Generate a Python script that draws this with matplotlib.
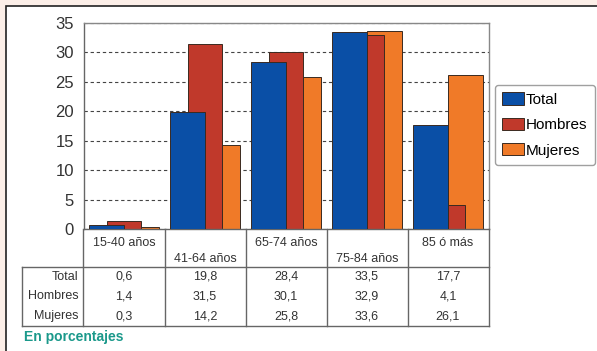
import numpy as np
import matplotlib
matplotlib.use("Agg")
import matplotlib.pyplot as plt
from matplotlib.patches import Rectangle, Patch

categories = ["15-40 años", "41-64 años", "65-74 años", "75-84 años", "85 ó más"]
total = [0.6, 19.8, 28.4, 33.5, 17.7]
hombres = [1.4, 31.5, 30.1, 32.9, 4.1]
mujeres = [0.3, 14.2, 25.8, 33.6, 26.1]
series_names = ["Total", "Hombres", "Mujeres"]
value_labels = [
    ["0,6", "19,8", "28,4", "33,5", "17,7"],
    ["1,4", "31,5", "30,1", "32,9", "4,1"],
    ["0,3", "14,2", "25,8", "33,6", "26,1"],
]
yticks = [0, 5, 10, 15, 20, 25, 30, 35]

colors = ["#0a4fa6", "#c0392b", "#f07a28"]
W, H = 597, 351
plt.rcParams['font.family'] = ['Liberation Sans', 'DejaVu Sans']

fig = plt.figure(figsize=(W / 100, H / 100), dpi=100)
fig.patch.set_facecolor("#fcefe8")
# white panel with dark top/left border
fig.add_artist(Rectangle((5.5 / W, -0.05), 1.1, 1 - 6 / H + 0.05, transform=fig.transFigure,
                         facecolor="white", edgecolor="#222222", lw=1.2, zorder=0))

# main axes
pl, pr, pt, pb = 83.5, 488.5, 23, 229
ax = fig.add_axes([pl / W, 1 - pb / H, (pr - pl) / W, (pb - pt) / H])
ax.set_facecolor("white")
x = np.arange(len(categories))
bw = 0.432
off = 0.216
data = [total, hombres, mujeres]
zs = [3, 2, 1]
for i, (vals, c, z) in enumerate(zip(data, colors, zs)):
    ax.bar(x + (i - 1) * off, vals, width=bw, color=c, edgecolor="#3a2a20", lw=0.7, zorder=z)
ax.set_xlim(-0.5, len(categories) - 0.5)
ax.set_ylim(0, 35)
ax.set_yticks(yticks)
ax.set_xticks([])
ax.tick_params(axis="y", length=0, pad=7, labelsize=12, labelcolor="#333333")
ax.yaxis.grid(True, linestyle=(0, (3, 2.5)), color="#444444", lw=0.8)
ax.set_axisbelow(True)
for s in ax.spines.values():
    s.set_color("#888888")
    s.set_linewidth(1.0)
ax.spines["left"].set_color("#666666")
ax.spines["bottom"].set_color("#666666")

# table axes
tl, tb = 22, 326
x_left = -0.5 - (pl - tl) / ((pr - pl) / len(categories))
tax = fig.add_axes([tl / W, 1 - tb / H, (pr - tl) / W, (tb - pb) / H])
tax.set_xlim(x_left, len(categories) - 0.5)
tax.set_ylim(tb, pb)
tax.axis("off")
lc = "#666666"
hdr = 266.7
for k in range(len(categories) + 1):
    tax.plot([k - 0.5, k - 0.5], [pb, tb], color=lc, lw=1.0, clip_on=False)
tax.plot([x_left, x_left], [hdr, tb], color=lc, lw=1.0, clip_on=False)
tax.plot([x_left, len(categories) - 0.5], [hdr, hdr], color=lc, lw=1.0, clip_on=False)
tax.plot([x_left, len(categories) - 0.5], [tb, tb], color=lc, lw=1.0, clip_on=False)
tc = "#333333"
for k, cat in enumerate(categories):
    yy = 243.5 if k % 2 == 0 else 259.5
    tax.text(k, yy, cat, ha="center", va="center", fontsize=9, color=tc)
row_h = (tb - hdr) / 3
for r, name in enumerate(series_names):
    yy = hdr + row_h * (r + 0.5)
    tax.text(-0.5 - 5 / 81, yy, name, ha="right", va="center", fontsize=9, color=tc)
    for k in range(len(categories)):
        tax.text(k, yy, value_labels[r][k], ha="center", va="center", fontsize=9, color=tc)

fig.text(24 / W, 1 - 337 / H, "En porcentajes", ha="left", va="center", fontsize=10,
         fontweight="bold", color="#1b998b")

handles = [Patch(facecolor=c, edgecolor="#3a2a20", lw=0.7) for c in colors]
leg = fig.legend(handles, series_names, loc="center", bbox_to_anchor=(545 / W, 1 - 125 / H),
                 fontsize=11, frameon=True, fancybox=True, edgecolor="#888888",
                 handlelength=1.4, handleheight=0.85, handletextpad=0.15, labelspacing=0.72,
                 borderpad=0.5, borderaxespad=0, shadow=False)
leg.get_frame().set_linewidth(1.0)

fig.savefig("out.png", dpi=100, facecolor=fig.get_facecolor())
